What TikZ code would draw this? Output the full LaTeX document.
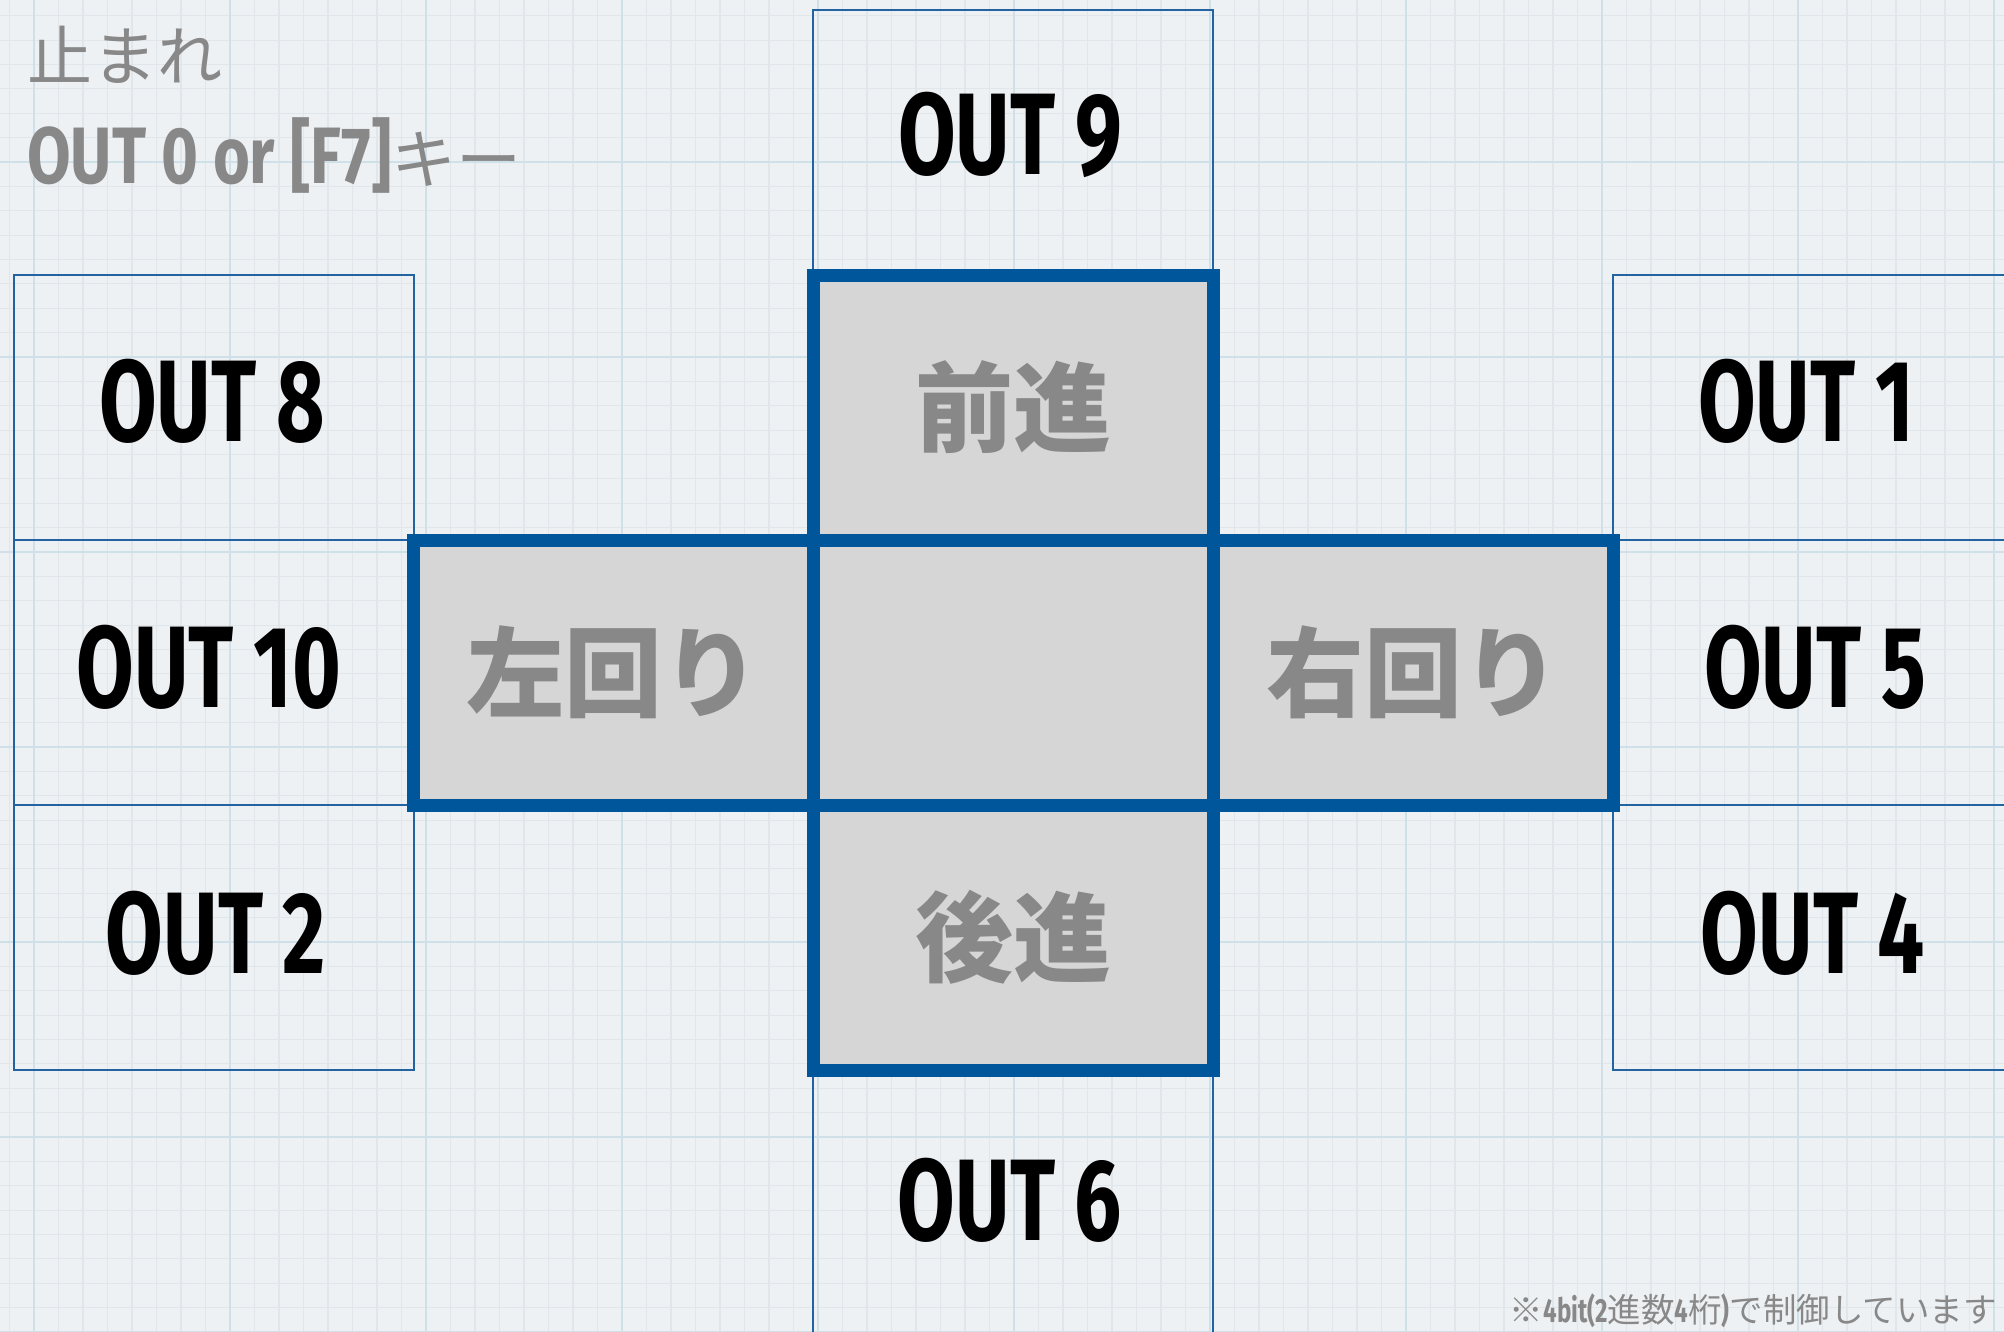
\documentclass[tikz,border=0pt]{standalone}
\usepackage{fontspec}
\newfontfamily\outfont{Fira Sans}[FakeStretch=0.72]
\newfontfamily\outwide{Fira Sans}[FakeStretch=0.79]
\newfontfamily\jpfont{Noto Sans CJK JP}
\definecolor{bgc}{HTML}{EEF1F4}
\definecolor{minorc}{HTML}{E1E6EB}
\definecolor{majorc}{HTML}{CFE0E8}
\definecolor{thinblue}{HTML}{2463A2}
\definecolor{thickblue}{HTML}{00569A}
\definecolor{cellfill}{HTML}{D6D6D6}
\definecolor{graytext}{HTML}{888888}
\tikzset{
  thinbox/.style={draw=thinblue, line width=2.5pt, inner sep=0pt,
    minimum width=400pt, minimum height=265pt},
  cellbox/.style={draw=thickblue, fill=cellfill, line width=13pt, inner sep=0pt,
    minimum width=400pt, minimum height=265pt, text=graytext,
    font=\jpfont\bfseries\fontsize{98}{98}\selectfont},
  outlabel/.style={inner sep=0pt, text=black,
    font=\outfont\bfseries\fontsize{116}{116}\selectfont},
  minorline/.style={draw=minorc, line width=1.2pt},
  majorline/.style={draw=majorc, line width=2.2pt},
}
\begin{document}
\begin{tikzpicture}[x=1pt,y=-1pt]
\useasboundingbox (0,0) rectangle (2004,1331);
\begin{scope}
\clip (0,0) rectangle (2004,1331);
\fill[bgc] (0,0) rectangle (2004,1331);
\foreach \i in {-2,...,82} \draw[minorline] ({34+24.5*\i},0) -- ({34+24.5*\i},1331);
\foreach \j in {-8,...,50} \draw[minorline] (0,{162+24.375*\j}) -- (2004,{162+24.375*\j});
\foreach \i in {0,...,10} \draw[majorline] ({34+196*\i},0) -- ({34+196*\i},1331);
\foreach \j in {0,...,6} \draw[majorline] (0,{162+195*\j}) -- (2004,{162+195*\j});
% thin boxes
\node[thinbox] (b9) at (1013,142.5) {};
\node[thinbox] (b8) at (214,407.5) {};
\node[thinbox] (b10) at (214,672.5) {};
\node[thinbox] (b2) at (214,937.5) {};
\node[thinbox] (b1) at (1813,407.5) {};
\node[thinbox] (b5) at (1813,672.5) {};
\node[thinbox] (b4) at (1813,937.5) {};
\node[thinbox] (b6) at (1013,1202.5) {};
\end{scope}
% OUT labels
\node[outlabel] (t9) at (1010,134.5) {OUT 9};
\node[outlabel] (t8) at (212,401) {OUT 8};
\node[outlabel] (t10) at (209,667) {OUT 10};
\node[outlabel] (t2) at (216,933) {OUT 2};
\node[outlabel] (t1) at (1806,401) {OUT 1};
\node[outlabel] (t5) at (1815,667) {OUT 5};
\node[outlabel] (t4) at (1813,933) {OUT 4};
\node[outlabel] (t6) at (1010,1200) {OUT 6};
% thick cross cells
\node[cellbox] (fwd) at (1013,407.5) {前進};
\node[cellbox] (left) at (613.5,672.5) {左回り};
\node[cellbox] (mid) at (1013,672.5) {};
\node[cellbox] (right) at (1413,672.5) {右回り};
\node[cellbox] (back) at (1013,937.5) {後進};
% top-left texts
\node[anchor=west, inner sep=0pt, text=graytext, font=\jpfont\fontsize{65}{65}\selectfont] (stop) at (27,55) {止まれ};
\node[anchor=base west, inner sep=0pt, text=graytext] (out0) at (27,183)
  {\outwide\bfseries\fontsize{80}{80}\selectfont OUT 0 or [F7]\jpfont\mdseries\fontsize{65}{65}\selectfont キー};
% bottom-right note
\node[anchor=base east, inner sep=0pt, text=graytext] (note) at (1997,1322)
  {\jpfont\fontsize{33.5}{33.5}\selectfont ※{\outfont\bfseries 4bit(2}進数{\outfont\bfseries 4}桁{\outfont\bfseries )}で制御しています};
\end{tikzpicture}
\end{document}
